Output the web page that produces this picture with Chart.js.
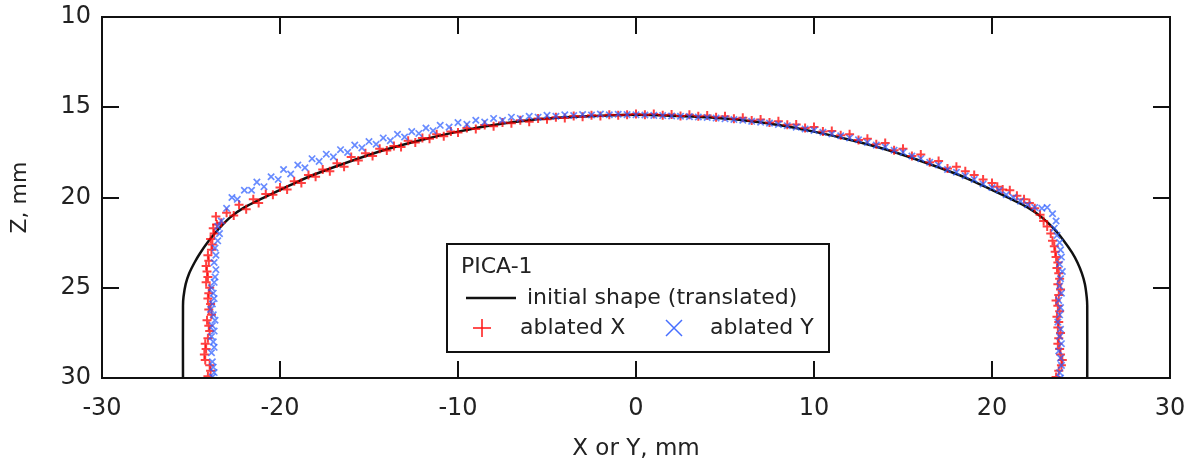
<!DOCTYPE html>
<html>
<head>
<meta charset="utf-8">
<script src="https://cdn.jsdelivr.net/npm/chart.js@4.4.1/dist/chart.umd.min.js"></script>
<style>
  html, body { margin: 0; padding: 0; background: #fff; }
  canvas { display: block; }
</style>
</head>
<body>
<canvas id="perfil" width="1196" height="463"></canvas>
<script>
// initial shape (translated): x, z in mm
const initialX = [-25.45, -25.45, -25.42, -25.3, -25.1, -24.8, -24.5, -24.0, -23.5, -22.8, -22.0, -21.0, -20.0, -19.0, -18.0, -16.0, -14.0, -12.0, -10.0, -8.0, -6.0, -4.0, -2.0, 0.0,
  2.0, 4.0, 6.0, 8.0, 10.0, 12.0, 14.0, 16.0, 18.0, 19.0, 20.0, 21.0, 22.0, 22.8, 23.5, 24.0, 24.5, 24.8, 25.05, 25.22, 25.32, 25.35, 25.35];
const initialZ = [30.0, 26.0, 25.5, 24.8, 24.2, 23.6, 23.1, 22.4, 21.8, 21.1, 20.55, 20.05, 19.58, 19.12, 18.7, 17.98, 17.33, 16.8, 16.35, 15.98, 15.72, 15.56, 15.47, 15.42,
  15.47, 15.56, 15.72, 15.98, 16.35, 16.8, 17.33, 17.98, 18.7, 19.12, 19.58, 20.05, 20.55, 21.1, 21.75, 22.35, 23.05, 23.6, 24.2, 24.8, 25.5, 26.0, 30.0];

// ablated X profile
const ablatedXx = [-24.05, -23.9, -23.95, -24.2, -24.25, -24.15, -24.2, -24.05, -23.95, -24.0, -24.1, -23.85, -24.0, -23.9, -24.05, -24.0, -23.95, -24.15, -24.05, -24.1, -24.15, -24.0, -24.05, -23.85, -23.8, -23.9, -23.7, -23.75, -23.55, -23.6,
  -23.3, -23.0, -22.6, -22.3, -21.9, -21.5, -21.2, -20.8, -20.4, -20.0, -19.6, -19.2, -18.8, -18.4, -18.0, -17.6, -17.2, -16.8, -16.4, -16.0, -15.6, -15.2, -14.8, -14.4, -14.0, -13.6, -13.2, -12.8, -12.4, -12.0,
  -11.6, -11.2, -10.8, -10.4, -10.0, -9.5, -9.0, -8.5, -8.0, -7.5, -7.0, -6.5, -6.0, -5.5, -5.0, -4.5, -4.0, -3.5, -3.0, -2.5, -2.0, -1.5, -1.0, -0.5,
  0.0, 0.5, 1.0, 1.5, 2.0, 2.5, 3.0, 3.5, 4.0, 4.5, 5.0, 5.5, 6.0, 6.5, 7.0, 7.5, 8.0, 8.5, 9.0, 9.5, 10.0, 10.5, 11.0, 11.5, 12.0, 12.5, 13.0, 13.5, 14.0, 14.5, 15.0, 15.5, 16.0, 16.5, 17.0, 17.5, 18.0,
  18.5, 19.0, 19.5, 20.0, 20.3, 20.6, 21.0, 21.4, 21.8, 22.1, 22.4, 22.7, 22.9, 23.1, 23.3,
  23.4, 23.5, 23.55, 23.6, 23.7, 23.65, 23.75, 23.8, 23.7, 23.85, 23.75, 23.6, 23.7, 23.8, 23.65, 23.75, 23.7, 23.85, 23.75, 23.7, 23.8, 23.85, 23.95, 23.9, 23.75, 23.6];
const ablatedXz = [29.9, 29.6, 29.3, 29.0, 28.7, 28.4, 28.1, 27.8, 27.4, 27.1, 26.8, 26.5, 26.2, 25.9, 25.6, 25.3, 25.0, 24.7, 24.4, 24.1, 23.8, 23.5, 23.2, 22.9, 22.6, 22.3, 22.0, 21.7, 21.5, 21.05,
  21.4, 20.85, 21.0, 20.4, 20.65, 20.1, 20.3, 19.8, 19.85, 19.45, 19.55, 19.1, 19.2, 18.75, 18.85, 18.45, 18.55, 18.1, 18.3, 17.75, 17.95, 17.55, 17.7, 17.3, 17.4, 17.15, 17.2, 16.85, 16.95, 16.7,
  16.75, 16.5, 16.6, 16.35, 16.4, 16.15, 16.2, 15.98, 16.05, 15.85, 15.88, 15.72, 15.8, 15.62, 15.66, 15.55, 15.6, 15.48, 15.52, 15.45, 15.48, 15.42, 15.45, 15.41,
  15.38, 15.42, 15.37, 15.45, 15.4, 15.48, 15.42, 15.5, 15.46, 15.56, 15.5, 15.64, 15.58, 15.74, 15.68, 15.85, 15.78, 15.97, 15.95, 16.15, 16.1, 16.35, 16.32, 16.55, 16.5, 16.82, 16.75, 17.05, 16.98, 17.38, 17.3, 17.7, 17.62, 18.05, 17.98, 18.4, 18.3,
  18.55, 18.75, 19.0, 19.2, 19.4, 19.55, 19.6, 19.9, 20.1, 20.3, 20.6, 20.95, 21.3, 21.6, 22.0,
  22.4, 22.7, 23.0, 23.3, 23.6, 23.9, 24.2, 24.5, 24.8, 25.1, 25.4, 25.7, 26.0, 26.3, 26.6, 26.9, 27.2, 27.5, 27.8, 28.1, 28.4, 28.7, 29.0, 29.3, 29.6, 29.95];

// ablated Y profile
const ablatedYx = [-23.8, -23.7, -23.75, -23.8, -23.85, -23.7, -23.75, -23.85, -23.7, -23.8, -23.65, -23.75, -23.9, -23.8, -23.7, -23.75, -23.85, -23.7, -23.65, -23.6, -23.7, -23.6, -23.65, -23.5, -23.4, -23.5, -23.3,
  -23.0, -22.7, -22.4, -22.0, -21.6, -21.3, -20.9, -20.5, -20.1, -19.8, -19.4, -19.0, -18.6, -18.2, -17.8, -17.4, -17.0, -16.6, -16.2, -15.8, -15.4, -15.0, -14.6, -14.2, -13.8, -13.4, -13.0, -12.6, -12.2, -11.8,
  -11.4, -11.0, -10.5, -10.0, -9.5, -9.0, -8.5, -8.0, -7.5, -7.0, -6.5, -6.0, -5.5, -5.0, -4.5, -4.0, -3.5, -3.0, -2.5, -2.0, -1.5, -1.0, -0.5,
  0.0, 0.5, 1.0, 1.5, 2.0, 2.5, 3.0, 3.5, 4.0, 4.5, 5.0, 5.5, 6.0, 6.5, 7.0, 7.5, 8.0, 8.5, 9.0, 9.5, 10.0, 10.5, 11.0, 11.5, 12.0, 12.5, 13.0, 13.5, 14.0, 14.5, 15.0, 15.5, 16.0, 16.5, 17.0, 17.5, 18.0,
  18.5, 19.0, 19.5, 20.0, 20.4, 20.8, 21.2, 21.6, 22.0, 22.4, 22.8, 23.1, 23.4, 23.6, 23.5,
  23.65, 23.8, 23.85, 23.9, 23.8, 23.95, 23.85, 23.8, 23.9, 23.75, 23.85, 23.8, 23.7, 23.85, 23.8, 23.9, 23.75, 23.85, 23.9, 23.8, 23.85];
const ablatedYz = [29.95, 29.7, 29.4, 29.1, 28.6, 28.3, 28.0, 27.7, 27.4, 27.1, 26.8, 26.5, 26.2, 25.9, 25.6, 25.3, 25.0, 24.7, 24.4, 24.0, 23.6, 23.2, 22.8, 22.4, 22.0, 21.6, 21.3,
  20.6, 20.0, 20.1, 19.6, 19.6, 19.15, 19.4, 18.85, 19.0, 18.45, 18.7, 18.2, 18.35, 17.85, 18.0, 17.6, 17.75, 17.35, 17.5, 17.1, 17.25, 16.9, 17.05, 16.7, 16.85, 16.5, 16.65, 16.35, 16.45, 16.15,
  16.3, 16.0, 16.1, 15.85, 15.95, 15.72, 15.82, 15.62, 15.72, 15.55, 15.62, 15.5, 15.55, 15.45, 15.5, 15.42, 15.46, 15.4, 15.43, 15.38, 15.42, 15.39, 15.41,
  15.42, 15.43, 15.45, 15.46, 15.48, 15.5, 15.52, 15.54, 15.57, 15.6, 15.64, 15.68, 15.72, 15.78, 15.83, 15.88, 15.95, 16.02, 16.1, 16.2, 16.28, 16.38, 16.48, 16.58, 16.7, 16.8, 16.95, 17.1, 17.2, 17.38, 17.5, 17.7, 17.85, 18.05, 18.2, 18.45, 18.6,
  18.8, 19.0, 19.25, 19.45, 19.6, 19.85, 20.0, 20.2, 20.4, 20.55, 20.6, 20.55, 20.9, 21.3, 21.7,
  22.1, 22.5, 22.9, 23.3, 23.7, 24.1, 24.5, 24.9, 25.3, 25.7, 26.1, 26.5, 26.9, 27.3, 27.7, 28.1, 28.5, 28.9, 29.3, 29.7, 30.0];

const xTicks = [-30, -20, -10, 0, 10, 20, 30];
const zTicks = [10, 15, 20, 25, 30];

const FONT = 'DejaVu Sans';
const toPoints = (xs, zs) => xs.map((x, i) => ({ x: x, y: zs[i] }));

// frame, inward ticks and the legend box
const marco = {
  id: 'marco',
  afterDraw(chart) {
    const { ctx, chartArea: a, scales } = chart;
    ctx.save();
    ctx.strokeStyle = '#111';
    ctx.lineWidth = 2;
    ctx.strokeRect(a.left, a.top, a.right - a.left, a.bottom - a.top);
    const len = 17;
    ctx.beginPath();
    xTicks.forEach(v => {
      const px = Math.round(scales.x.getPixelForValue(v));
      ctx.moveTo(px, a.bottom); ctx.lineTo(px, a.bottom - len);
      ctx.moveTo(px, a.top); ctx.lineTo(px, a.top + len);
    });
    zTicks.forEach(v => {
      const py = Math.round(scales.y.getPixelForValue(v));
      ctx.moveTo(a.left, py); ctx.lineTo(a.left + len, py);
      ctx.moveTo(a.right, py); ctx.lineTo(a.right - len, py);
    });
    ctx.stroke();

    // legend
    const bx = 447, by = 244, bw = 382, bh = 108;
    ctx.fillStyle = '#fff';
    ctx.fillRect(bx, by, bw, bh);
    ctx.lineWidth = 2;
    ctx.strokeStyle = '#111';
    ctx.strokeRect(bx, by, bw, bh);
    ctx.fillStyle = '#222';
    ctx.font = '22px "' + FONT + '"';
    ctx.textBaseline = 'middle';
    ctx.textAlign = 'left';
    ctx.fillText('PICA-1', 461, 267);
    ctx.beginPath();
    ctx.lineWidth = 2.5;
    ctx.moveTo(466, 298); ctx.lineTo(516, 298);
    ctx.stroke();
    ctx.fillText('initial shape (translated)', 527, 298);
    ctx.fillText('ablated X', 520, 328);
    ctx.fillText('ablated Y', 710, 328);
    ctx.lineWidth = 1.5;
    ctx.strokeStyle = 'rgb(255,20,20)';
    ctx.beginPath();
    ctx.moveTo(473, 328); ctx.lineTo(491, 328);
    ctx.moveTo(482, 319); ctx.lineTo(482, 337);
    ctx.stroke();
    ctx.strokeStyle = 'rgb(70,110,255)';
    ctx.beginPath();
    ctx.moveTo(666, 320); ctx.lineTo(682, 336);
    ctx.moveTo(682, 320); ctx.lineTo(666, 336);
    ctx.stroke();
    ctx.restore();
  }
};

new Chart(document.getElementById('perfil'), {
  type: 'scatter',
  data: {
    datasets: [
      {
        label: 'ablated X',
        data: toPoints(ablatedXx, ablatedXz),
        pointStyle: 'cross',
        radius: 4.5,
        borderWidth: 2,
        borderColor: 'rgba(255,0,0,0.75)',
        backgroundColor: 'rgba(255,0,0,0.75)',
        order: 2
      },
      {
        label: 'ablated Y',
        data: toPoints(ablatedYx, ablatedYz),
        pointStyle: 'crossRot',
        radius: 4.5,
        borderWidth: 1.7,
        borderColor: 'rgba(40,90,255,0.7)',
        backgroundColor: 'rgba(40,90,255,0.7)',
        order: 1
      },
      {
        label: 'initial shape (translated)',
        type: 'line',
        data: toPoints(initialX, initialZ),
        showLine: true,
        borderColor: '#111',
        borderWidth: 2.5,
        pointRadius: 0,
        tension: 0.3,
        fill: false,
        order: 3
      }
    ]
  },
  options: {
    responsive: false,
    animation: false,
    devicePixelRatio: 1,
    layout: { padding: { left: 0, right: 26, top: 17, bottom: 0 } },
    plugins: { legend: { display: false }, tooltip: { enabled: false } },
    scales: {
      x: {
        type: 'linear',
        min: -30, max: 30,
        grid: { display: false, drawTicks: false },
        border: { display: false },
        afterBuildTicks: s => { s.ticks = xTicks.map(v => ({ value: v })); },
        afterFit: s => { s.height = 85; s.paddingLeft = 0; s.paddingRight = 0; },
        ticks: { color: '#222', font: { family: FONT, size: 24 }, padding: 16, maxRotation: 0 },
        title: { display: true, text: 'X or Y, mm', color: '#222', font: { family: FONT, size: 23 }, padding: { top: 4, bottom: 0 } }
      },
      y: {
        type: 'linear',
        reverse: true,
        min: 10, max: 30,
        grid: { display: false, drawTicks: false },
        border: { display: false },
        afterBuildTicks: s => { s.ticks = zTicks.map(v => ({ value: v })); },
        afterFit: s => { s.width = 102; s.paddingTop = 0; s.paddingBottom = 0; },
        ticks: { color: '#222', font: { family: FONT, size: 24 }, padding: 11 },
        title: { display: true, text: 'Z, mm', color: '#222', font: { family: FONT, size: 22 }, padding: { top: 7, bottom: 8 } }
      }
    }
  },
  plugins: [marco]
});
</script>
</body>
</html>
